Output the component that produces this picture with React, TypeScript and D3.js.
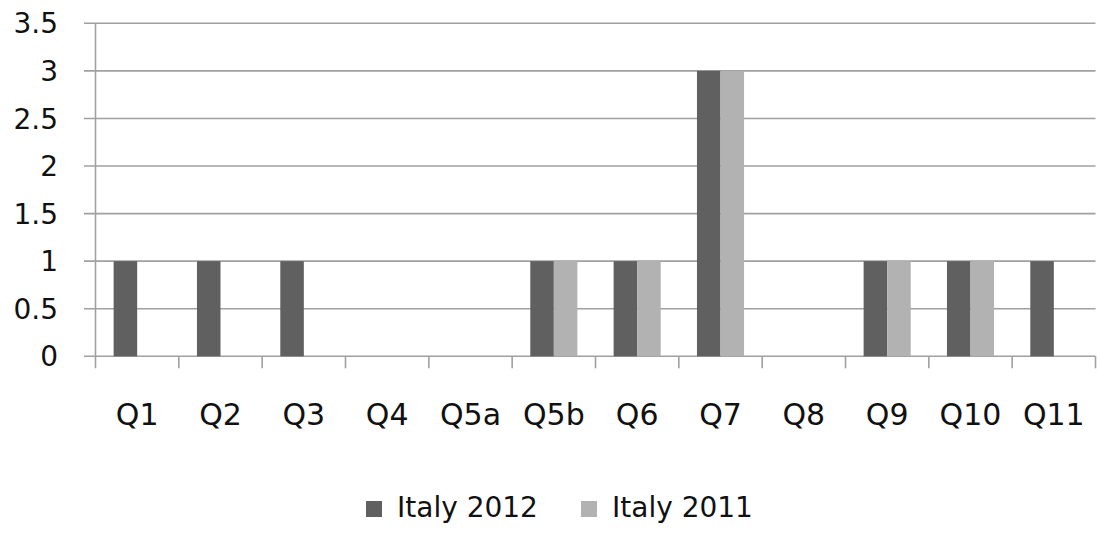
import React from "react";
import * as d3 from "d3";

const categories = ["Q1", "Q2", "Q3", "Q4", "Q5a", "Q5b", "Q6", "Q7", "Q8", "Q9", "Q10", "Q11"];
const seriesNames = ["Italy 2012", "Italy 2011"];
const italy2012 = [1, 1, 1, 0, 0, 1, 1, 3, 0, 1, 1, 1];
const italy2011 = [0, 0, 0, 0, 0, 1, 1, 3, 0, 1, 1, 0];
const yTicks = [0, 0.5, 1, 1.5, 2, 2.5, 3, 3.5];
const colors = ["#606060", "#b2b2b2"];

const W = 1097;
const H = 533;
const left = 95.5;
const right = 1095.5;
const top = 23.3;
const bottom = 356.3;
const font = "'DejaVu Sans', sans-serif";

export default function App() {
  const x = d3.scaleBand<string>().domain(categories).range([left, right]).paddingInner(0).paddingOuter(0);
  const y = d3.scaleLinear().domain([0, 3.5]).range([bottom, top]);
  const inner = d3.scaleBand<string>().domain(seriesNames).range([0, x.bandwidth()]).paddingInner(0).paddingOuter(0.77);
  const series = [italy2012, italy2011];
  const grid = "#a0a0a0";

  return (
    <svg width={W} height={H} style={{ position: "absolute", left: 0, top: 0, background: "#fff" }} fontFamily={font}>
      {yTicks.map((t) => (
        <g key={t}>
          <line x1={84} x2={right} y1={y(t)} y2={y(t)} stroke={grid} strokeWidth={1.6} />
          <text x={58} y={y(t)} dy="0.36em" textAnchor="end" fontSize={28} fill="#111">
            {String(t)}
          </text>
        </g>
      ))}
      <line x1={left} x2={left} y1={top} y2={bottom + 12} stroke={grid} strokeWidth={1.6} />
      {categories.map((c, i) => (
        <line key={"t" + i} x1={(x(c) as number) + x.bandwidth()} x2={(x(c) as number) + x.bandwidth()} y1={bottom} y2={bottom + 12} stroke={grid} strokeWidth={1.6} />
      ))}
      {series.map((vals, si) =>
        vals.map((v, i) =>
          v > 0 ? (
            <rect
              key={si + "-" + i}
              x={(x(categories[i]) as number) + (inner(seriesNames[si]) as number)}
              y={y(v)}
              width={inner.bandwidth()}
              height={y(0) - y(v)}
              fill={colors[si]}
            />
          ) : null
        )
      )}
      {categories.map((c) => (
        <text key={c} x={(x(c) as number) + x.bandwidth() / 2} y={425} textAnchor="middle" fontSize={30} fill="#111">
          {c}
        </text>
      ))}
      {seriesNames.map((s, i) => {
        const lx = i === 0 ? 366 : 581;
        return (
          <g key={s}>
            <rect x={lx} y={501} width={16} height={16} fill={colors[i]} />
            <text x={lx + 31} y={517} fontSize={28} fill="#111">
              {s}
            </text>
          </g>
        );
      })}
    </svg>
  );
}
